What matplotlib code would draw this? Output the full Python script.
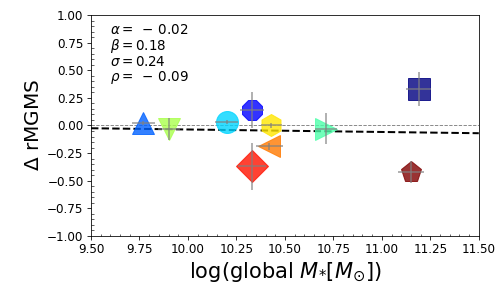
import matplotlib
matplotlib.use("Agg")
import matplotlib.pyplot as plt
import numpy as np

# Datos de cada galaxia (masa global, residuo rMGMS y errores)
marcadores = ["s", "8", "^", "o", ">", "v", "h", "<", "D", "p"]
log_masa = [11.19, 10.33, 9.77, 10.20, 10.71, 9.90, 10.43, 10.42, 10.33, 11.15]
delta_rmgms = [0.33, 0.14, 0.02, 0.03, -0.03, -0.03, 0.00, -0.19, -0.37, -0.42]
err_x = [0.065, 0.06, 0.06, 0.06, 0.057, 0.057, 0.055, 0.07, 0.073, 0.067]
err_y = [0.15, 0.16, 0.02, 0.02, 0.14, 0.1, 0.02, 0.03, 0.21, 0.1]

# Ajuste lineal
ajuste_x = [9.5, 11.5]
ajuste_y = [-0.025, -0.07]

texto_parametros = ("$\\alpha = \\;-\\,0.02$\n$\\beta = 0.18$\n"
                    "$\\sigma = 0.24$\n$\\rho = \\;-\\,0.09$")

fig = plt.figure(figsize=(7, 4), dpi=72)
ax = fig.add_axes([0.1806, 0.1806, 0.7694, 0.7674])

cores = plt.cm.jet(np.linspace(0, 1, len(marcadores)))
for i, m in enumerate(marcadores):
    ax.plot(log_masa[i], delta_rmgms[i], marker=m, markersize=22,
            color=cores[i], alpha=0.8, linestyle="none", zorder=3)
    ax.errorbar(log_masa[i], delta_rmgms[i], xerr=err_x[i], yerr=err_y[i],
                fmt="none", ecolor="grey", alpha=0.6, elinewidth=2,
                zorder=4)

ax.axhline(0, color="grey", linestyle="--", linewidth=0.9, zorder=1)
ax.plot(ajuste_x, ajuste_y, color="black", linestyle="--", linewidth=2,
        zorder=2)

ax.text(0.05, 0.965, texto_parametros, transform=ax.transAxes,
        fontsize=13.5, va="top", ha="left", linespacing=1.0)

ax.set_xlim(9.5, 11.5)
ax.set_ylim(-1.0, 1.0)
ax.set_xticks(np.arange(9.5, 11.51, 0.25))
ax.set_yticks(np.arange(-1.0, 1.01, 0.25))
ax.minorticks_on()
ax.tick_params(which="major", direction="out", length=4, labelsize=12)
ax.tick_params(which="minor", direction="in", length=2.5)
ax.set_xlabel("log(global $M_{*}[M_{\\odot}]$)", fontsize=21)
ax.set_ylabel("$\\Delta$ rMGMS", fontsize=20)

plt.savefig("out.png", dpi=72)
plt.close()
